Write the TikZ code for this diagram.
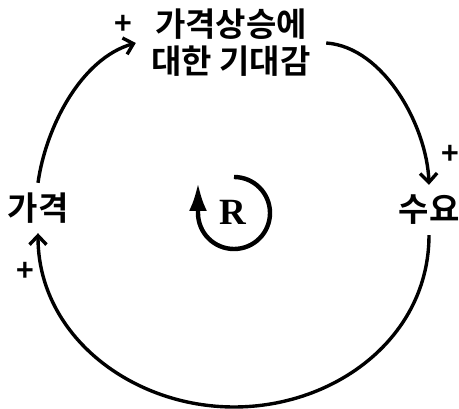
\documentclass[tikz,border=0pt]{standalone}
\usepackage{fontspec}
\usepackage{tikz}
\usetikzlibrary{arrows.meta}
\newfontfamily\kr{Noto Sans CJK KR}[BoldFont={Noto Sans CJK KR Bold}]
\newfontfamily\rfont{Liberation Serif}

\begin{document}
\begin{tikzpicture}[x=1pt, y=1pt, >={Straight Barb[length=9pt,width=17pt]},
  bien/.style={font=\kr\bfseries\fontsize{33}{37}\selectfont, inner sep=0pt, minimum height=50pt, align=center},
  mui/.style={->, line width=3.4pt},
  dau/.style={font=\kr\bfseries\fontsize{30}{30}\selectfont, inner sep=0pt}]
  \useasboundingbox (0,0) rectangle (459,409);
  % 1. Các biến
  \node[bien] (gia) at (38,201) {가격};
  \node[bien] (cau) at (429,199) {수요};
  \node[bien, minimum width=190pt] (kyvong) at (231,366) {가격상승에\\대한 기대감};
  \coordinate (day) at (234,2);
  % 2. Các mũi tên
  \draw[mui] (gia.north) to[out=82, in=196, looseness=0.85] (kyvong.west);
  \draw[mui] (kyvong.east) to[out=-4, in=92, looseness=0.85] (cau.north);
  \draw[mui] (cau.south) to[out=-90, in=0] (day) to[out=180, in=-90] (gia.south);
  % 3. Dấu của các mũi tên
  \node[dau] (d1) at (123,384) {+};
  \node[dau] (d2) at (450,254) {+};
  \node[dau] (d3) at (25,137) {+};
  % 4. Vòng lặp R
  \node[font=\rfont\bfseries\fontsize{37}{37}\selectfont] (R) at (233,197) {R};
  \draw[line width=4.4pt, -{Latex[length=28pt,width=18pt]}] ([shift={(1,35)}]R.center) arc[start angle=90, end angle=-180, radius=36] -- ++(0,30);
\end{tikzpicture}
\end{document}
